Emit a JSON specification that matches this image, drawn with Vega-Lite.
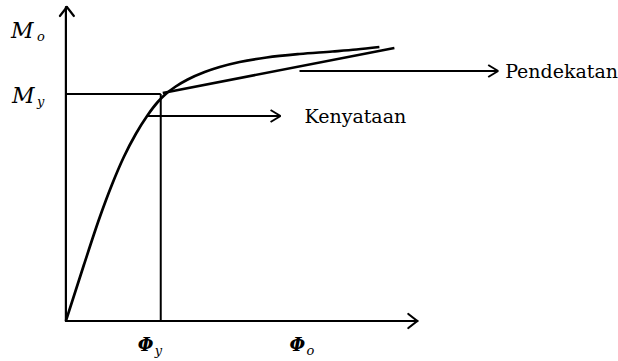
{
  "$schema": "https://vega.github.io/schema/vega-lite/v6.json",
  "width": 618,
  "height": 361,
  "padding": 0,
  "autosize": {"type": "fit", "contains": "padding"},
  "background": "white",
  "config": {"view": {"stroke": null}},
  "datasets": {
    "segs": [
      {"kind": "axis", "x": 66, "y": 40, "x2": 66, "y2": 354},
      {"kind": "axis", "x": 66, "y": 40, "x2": 418, "y2": 40},
      {"kind": "axis", "x": 67, "y": 354, "x2": 60, "y2": 345},
      {"kind": "axis", "x": 67, "y": 354, "x2": 74, "y2": 345},
      {"kind": "axis", "x": 418, "y": 40, "x2": 409, "y2": 47},
      {"kind": "axis", "x": 418, "y": 40, "x2": 409, "y2": 33},
      {"kind": "thin", "x": 66, "y": 267, "x2": 161, "y2": 267},
      {"kind": "thin", "x": 161, "y": 267, "x2": 161, "y2": 40},
      {"kind": "thin", "x": 147, "y": 245, "x2": 281, "y2": 245},
      {"kind": "thin", "x": 281, "y": 245, "x2": 271, "y2": 251},
      {"kind": "thin", "x": 281, "y": 245, "x2": 271, "y2": 239},
      {"kind": "thin", "x": 300, "y": 290, "x2": 499, "y2": 290},
      {"kind": "thin", "x": 499, "y": 290, "x2": 489, "y2": 296},
      {"kind": "thin", "x": 499, "y": 290, "x2": 489, "y2": 284},
      {"kind": "approx", "x": 163, "y": 268, "x2": 395, "y2": 313}
    ],
    "curve": [
      {"x": 66, "y": 40},
      {"x": 84, "y": 96},
      {"x": 100, "y": 144},
      {"x": 112, "y": 176},
      {"x": 124, "y": 204},
      {"x": 136, "y": 227},
      {"x": 148, "y": 246},
      {"x": 158, "y": 259},
      {"x": 166, "y": 267},
      {"x": 176, "y": 274.5},
      {"x": 188, "y": 281.5},
      {"x": 205, "y": 289},
      {"x": 220, "y": 294},
      {"x": 240, "y": 299},
      {"x": 267, "y": 303.5},
      {"x": 300, "y": 307},
      {"x": 333, "y": 309.5},
      {"x": 357, "y": 311.5},
      {"x": 380, "y": 314}
    ],
    "labels": [
      {"x": 305, "y": 238, "t": "Kenyataan"},
      {"x": 506, "y": 283, "t": "Pendekatan"}
    ],
    "syms": [
      {"kind": "big", "x": 11, "y": 323, "t": "M"},
      {"kind": "sub", "x": 37, "y": 320, "t": "o"},
      {"kind": "big", "x": 12, "y": 258, "t": "M"},
      {"kind": "sub", "x": 37, "y": 255, "t": "y"},
      {"kind": "phi", "x": 138, "y": 10, "t": "Φ"},
      {"kind": "sub", "x": 155, "y": 6, "t": "y"},
      {"kind": "phi", "x": 290, "y": 10, "t": "Φ"},
      {"kind": "sub", "x": 307, "y": 6, "t": "o"}
    ]
  },
  "layer": [
    {
      "data": {"name": "segs"},
      "transform": [{"filter": "datum.kind === 'axis'"}],
      "mark": {"type": "rule", "color": "black", "strokeWidth": 2.2, "strokeCap": "round"},
      "encoding": {
        "x": {"field": "x", "type": "quantitative", "scale": {"domain": [0, 618], "nice": false, "zero": false}, "axis": null},
        "y": {"field": "y", "type": "quantitative", "scale": {"domain": [0, 361], "nice": false, "zero": false}, "axis": null},
        "x2": {"field": "x2"},
        "y2": {"field": "y2"}
      }
    },
    {
      "data": {"name": "segs"},
      "transform": [{"filter": "datum.kind === 'thin'"}],
      "mark": {"type": "rule", "color": "black", "strokeWidth": 2},
      "encoding": {
        "x": {"field": "x", "type": "quantitative", "scale": {"domain": [0, 618], "nice": false, "zero": false}, "axis": null},
        "y": {"field": "y", "type": "quantitative", "scale": {"domain": [0, 361], "nice": false, "zero": false}, "axis": null},
        "x2": {"field": "x2"},
        "y2": {"field": "y2"}
      }
    },
    {
      "data": {"name": "segs"},
      "transform": [{"filter": "datum.kind === 'approx'"}],
      "mark": {"type": "rule", "color": "black", "strokeWidth": 2.5},
      "encoding": {
        "x": {"field": "x", "type": "quantitative", "scale": {"domain": [0, 618], "nice": false, "zero": false}, "axis": null},
        "y": {"field": "y", "type": "quantitative", "scale": {"domain": [0, 361], "nice": false, "zero": false}, "axis": null},
        "x2": {"field": "x2"},
        "y2": {"field": "y2"}
      }
    },
    {
      "data": {"name": "curve"},
      "mark": {"type": "line", "color": "black", "strokeWidth": 2.7, "interpolate": "monotone"},
      "encoding": {
        "x": {"field": "x", "type": "quantitative", "scale": {"domain": [0, 618], "nice": false, "zero": false}, "axis": null},
        "y": {"field": "y", "type": "quantitative", "scale": {"domain": [0, 361], "nice": false, "zero": false}, "axis": null}
      }
    },
    {
      "data": {"name": "labels"},
      "mark": {"type": "text", "font": "DejaVu Serif", "fontSize": 19, "align": "left", "baseline": "alphabetic", "color": "black"},
      "encoding": {
        "x": {"field": "x", "type": "quantitative", "scale": {"domain": [0, 618], "nice": false, "zero": false}, "axis": null},
        "y": {"field": "y", "type": "quantitative", "scale": {"domain": [0, 361], "nice": false, "zero": false}, "axis": null},
        "text": {"field": "t"}
      }
    },
    {
      "data": {"name": "syms"},
      "transform": [{"filter": "datum.kind === 'big'"}],
      "mark": {"type": "text", "font": "DejaVu Serif", "fontSize": 22, "fontStyle": "italic", "align": "left", "baseline": "alphabetic", "color": "black"},
      "encoding": {
        "x": {"field": "x", "type": "quantitative", "scale": {"domain": [0, 618], "nice": false, "zero": false}, "axis": null},
        "y": {"field": "y", "type": "quantitative", "scale": {"domain": [0, 361], "nice": false, "zero": false}, "axis": null},
        "text": {"field": "t"}
      }
    },
    {
      "data": {"name": "syms"},
      "transform": [{"filter": "datum.kind === 'phi'"}],
      "mark": {"type": "text", "font": "DejaVu Serif", "fontSize": 18, "fontStyle": "italic", "fontWeight": "bold", "align": "left", "baseline": "alphabetic", "color": "black"},
      "encoding": {
        "x": {"field": "x", "type": "quantitative", "scale": {"domain": [0, 618], "nice": false, "zero": false}, "axis": null},
        "y": {"field": "y", "type": "quantitative", "scale": {"domain": [0, 361], "nice": false, "zero": false}, "axis": null},
        "text": {"field": "t"}
      }
    },
    {
      "data": {"name": "syms"},
      "transform": [{"filter": "datum.kind === 'sub'"}],
      "mark": {"type": "text", "font": "DejaVu Serif", "fontSize": 13, "fontStyle": "italic", "align": "left", "baseline": "alphabetic", "color": "black"},
      "encoding": {
        "x": {"field": "x", "type": "quantitative", "scale": {"domain": [0, 618], "nice": false, "zero": false}, "axis": null},
        "y": {"field": "y", "type": "quantitative", "scale": {"domain": [0, 361], "nice": false, "zero": false}, "axis": null},
        "text": {"field": "t"}
      }
    }
  ]
}
